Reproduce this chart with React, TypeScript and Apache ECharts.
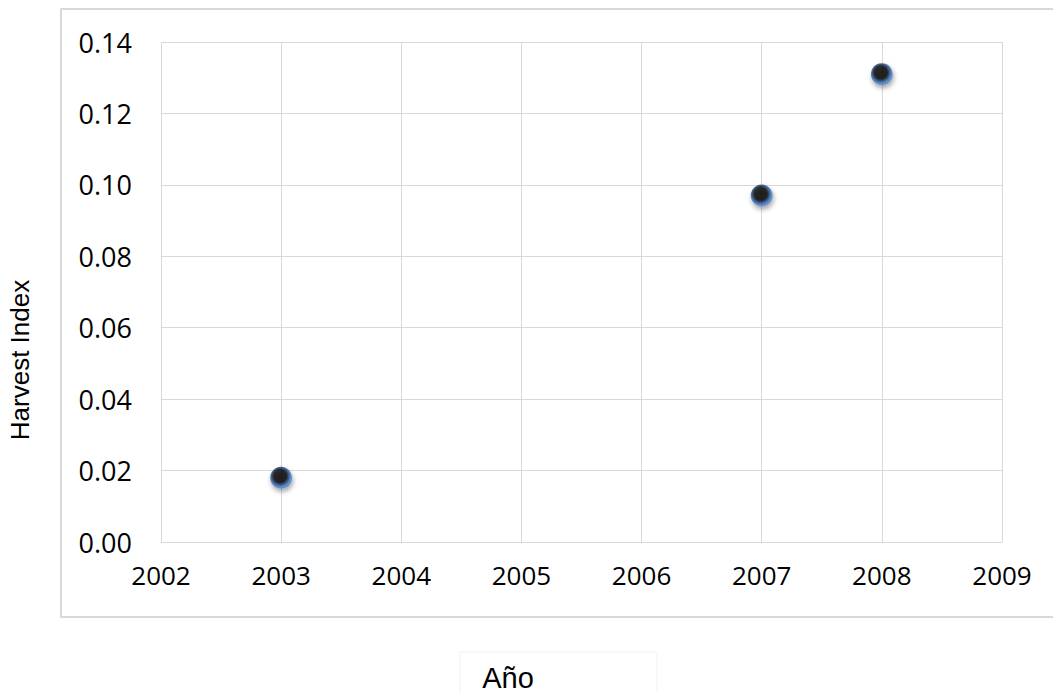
import React, { useEffect, useRef } from "react";
import * as echarts from "echarts";

const years = [2003, 2007, 2008];
const harvestIndex = [0.018, 0.097, 0.131];
const xTicks = [2002, 2003, 2004, 2005, 2006, 2007, 2008, 2009];
const yTicks = [0, 0.02, 0.04, 0.06, 0.08, 0.1, 0.12, 0.14];

export default function App() {
  const ref = useRef<HTMLDivElement>(null);
  useEffect(() => {
    if (!ref.current) return;
    const chart = echarts.init(ref.current, null, { renderer: "svg" });
    const markerColor = new echarts.graphic.RadialGradient(0.45, 0.42, 0.5, [
      { offset: 0, color: "#000000" },
      { offset: 0.58, color: "#000000" },
      { offset: 0.78, color: "#1d3f73" },
      { offset: 1, color: "#4f82cc" },
    ]);
    chart.setOption({
      animation: false,
      backgroundColor: "#ffffff",
      grid: { left: 161, right: 51, top: 42, bottom: 151, containLabel: false },
      xAxis: {
        type: "value",
        min: xTicks[0],
        max: xTicks[xTicks.length - 1],
        interval: 1,
        axisLine: { show: true, lineStyle: { color: "#d9d9d9", width: 1 } },
        axisTick: { show: false },
        splitLine: { show: true, lineStyle: { color: "#d9d9d9", width: 1 } },
        axisLabel: {
          formatter: (v: number) => String(v),
          fontFamily: "Open Sans",
          fontSize: 26,
          color: "#000000",
          margin: 20,
        },
      },
      yAxis: {
        type: "value",
        min: yTicks[0],
        max: yTicks[yTicks.length - 1],
        interval: 0.02,
        axisLine: { show: false },
        axisTick: { show: false },
        splitLine: { show: true, lineStyle: { color: "#d9d9d9", width: 1 } },
        axisLabel: {
          formatter: (v: number) => v.toFixed(2),
          fontFamily: "Open Sans",
          fontSize: 27,
          color: "#000000",
          margin: 29,
        },
      },
      graphic: [
        {
          type: "rect",
          shape: { x: 61, y: 9, width: 1100, height: 608 },
          style: { fill: "none", stroke: "#d9d9d9", lineWidth: 2 },
          silent: true,
          z: -1,
        },
        {
          type: "rect",
          shape: { x: 460, y: 652, width: 197, height: 60 },
          style: { fill: "none", stroke: "#f2f2f2", lineWidth: 1 },
          silent: true,
        },
        {
          type: "text",
          x: 20,
          y: 360,
          rotation: Math.PI / 2,
          style: {
            text: "Harvest Index",
            fontFamily: "Liberation Sans, Arial",
            fontSize: 26,
            fill: "#000000",
            align: "center",
            verticalAlign: "middle",
          },
        },
        {
          type: "text",
          x: 508,
          y: 678,
          style: {
            text: "Año",
            fontFamily: "Liberation Sans, Arial",
            fontSize: 29,
            fill: "#000000",
            align: "center",
            verticalAlign: "middle",
          },
        },
      ],
      series: [
        {
          type: "scatter",
          data: years.map((y, i) => [y, harvestIndex[i]]),
          symbol: "circle",
          symbolSize: 22,
          itemStyle: {
            color: markerColor,
            shadowBlur: 5,
            shadowOffsetX: 1,
            shadowOffsetY: 3,
            shadowColor: "rgba(0,0,0,0.45)",
          },
        },
      ],
    });
    return () => chart.dispose();
  }, []);
  return (
    <div
      ref={ref}
      style={{ position: "fixed", left: 0, top: 0, width: 1053, height: 693 }}
    />
  );
}
